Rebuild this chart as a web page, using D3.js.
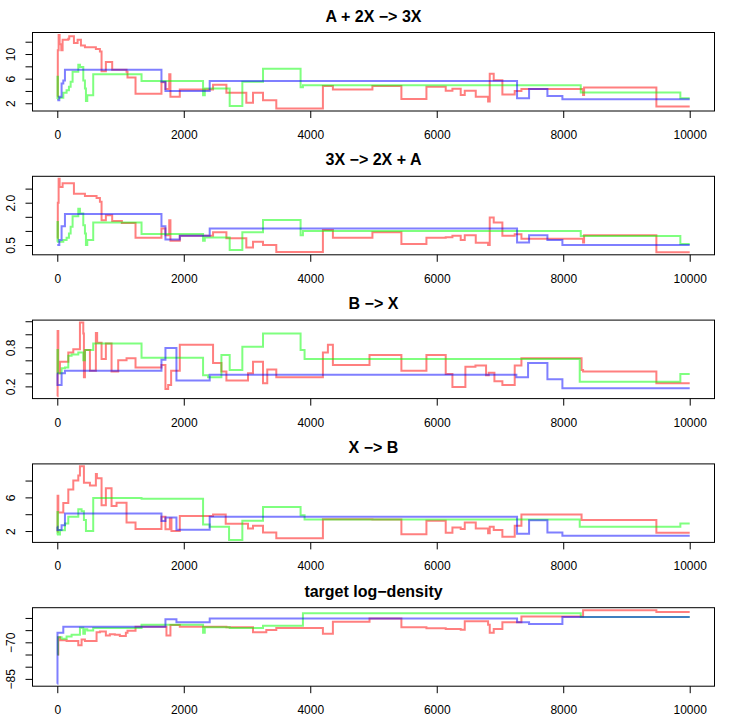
<!DOCTYPE html>
<html>
<head>
<meta charset="utf-8">
<script src="https://cdn.jsdelivr.net/npm/d3@7"></script>
<style>
  body { margin: 0; background: #fff; }
  svg { display: block; font-family: "Liberation Sans", Arial, sans-serif; }
</style>
</head>
<body>
<svg id="grafico" width="747" height="719"></svg>
<script>
// titulos dos paineis (o R desenha o "-" como sinal de menos)
const titulos = ["A + 2X \u2212> 3X", "3X \u2212> 2X + A", "B \u2212> X", "X \u2212> B", "target log\u2212density"];

// ticks do eixo x (iteracoes)
const x_ticks = [0, 2000, 4000, 6000, 8000, 10000];

// ticks do eixo y, e os rotulos que aparecem ("" = tick sem rotulo)
const y_ticks_1 = [2, 4, 6, 8, 10, 12];
const y_rot_1   = ["2", "", "6", "", "10", ""];
const y_ticks_2 = [0.5, 1.0, 1.5, 2.0, 2.5];
const y_rot_2   = ["0.5", "", "", "2.0", ""];
const y_ticks_3 = [0.2, 0.4, 0.6, 0.8, 1.0, 1.2];
const y_rot_3   = ["0.2", "", "", "0.8", "", ""];
const y_ticks_4 = [2, 4, 6, 8];
const y_rot_4   = ["2", "", "6", ""];
const y_ticks_5 = [-85, -80, -75, -70, -65, -60];
const y_rot_5   = ["\u221285", "", "", "\u221270", "", ""];

// cadeias: [iteracao, valor] nos pontos de mudanca
const red_1 = [[0,3.1],[8,10.6],[21,13.1],[37,11.6],[63,10.6],[84,12.3],[174,12.5],[189,12.9],[263,11.8],[321,12.3],[374,11.4],[437,11.1],[610,10.8],[674,10.4],[700,7.2],[768,8.7],[868,7.45],[1095,7.1],[1110,6.2],[1237,3.55],[1647,5.4],[1710,4.3],[1770,6.7],[1789,3.07],[1937,4.25],[2463,5.0],[2674,3.7],[2989,2.1],[3095,3.7],[3253,2.5],[3463,1.14],[4200,4.8],[4358,4.25],[4983,4.8],[5441,2.7],[5837,4.67],[6142,4.03],[6248,4.35],[6379,3.34],[6443,4.03],[6617,3.07],[6812,2.27],[6838,6.8],[6901,5.74],[7038,3.44],[7233,3.98],[7339,4.3],[8314,3.34],[8330,4.57],[9473,1.47],[10000,1.47]];
const green_1 = [[0,2.7],[3,6.3],[10,2.9],[95,3.7],[147,4.1],[184,4.7],[211,5.5],[242,7.1],[332,8.26],[358,7.9],[411,5.7],[437,4.4],[453,2.37],[474,3.3],[568,6.7],[1332,5.6],[2305,3.3],[2332,4.4],[2726,1.57],[2926,5.5],[3253,7.6],[3847,4.6],[3884,4.94],[8277,3.76],[9852,2.8],[10000,2.8]];
const blue_1 = [[0,2.5],[32,3.07],[68,5.2],[95,5.7],[121,7.45],[1647,5.5],[1710,4.0],[2410,5.6],[7270,2.8],[7460,4.3],[7750,3.2],[7987,2.64],[10000,2.64]];

const red_2 = [[0,0.74],[8,2.0],[21,2.85],[37,2.56],[84,2.69],[263,2.32],[437,2.24],[621,2.17],[674,2.03],[700,1.38],[768,1.56],[868,1.35],[1021,1.28],[1237,0.76],[1647,1.09],[1710,0.85],[1770,1.38],[1789,0.65],[1937,0.83],[2463,0.95],[2674,0.74],[2989,0.41],[3095,0.62],[3253,0.5],[3463,0.25],[4200,1.03],[4358,0.76],[4983,0.95],[5441,0.54],[5837,0.76],[6142,0.78],[6248,0.83],[6379,0.68],[6443,0.85],[6617,0.58],[6812,0.5],[6838,1.48],[6901,1.3],[7038,0.83],[7233,0.88],[7339,0.72],[8314,0.59],[8330,0.85],[9473,0.24],[10000,0.24]];
const green_2 = [[0,0.62],[3,1.32],[10,0.62],[95,0.68],[147,0.76],[184,0.91],[211,1.15],[242,1.52],[332,1.79],[358,1.62],[411,1.2],[437,0.91],[453,0.5],[474,0.68],[568,1.3],[1332,0.89],[2305,0.65],[2332,0.77],[2726,0.32],[2926,0.95],[3253,1.39],[3847,0.85],[3884,1.0],[8277,0.82],[9852,0.54],[10000,0.54]];
const blue_2 = [[0,0.5],[32,0.68],[68,1.17],[121,1.6],[1647,1.17],[1710,0.7],[1937,0.83],[2410,1.09],[7270,0.59],[7460,0.85],[7750,0.68],[7987,0.5],[10000,0.5]];

const red_3 = [[0,0.05],[5,1.05],[16,0.4],[42,0.58],[174,0.72],[253,0.77],[358,1.18],[411,1.01],[421,0.34],[437,0.76],[516,0.44],[610,1.02],[630,0.87],[700,0.62],[768,0.86],[858,0.43],[963,0.6],[1095,0.63],[1237,0.49],[1647,0.53],[1710,0.16],[1753,0.22],[1800,0.44],[1937,0.84],[2463,0.56],[2595,0.43],[2674,0.29],[3016,0.4],[3095,0.58],[3253,0.25],[3320,0.46],[3463,0.34],[4200,0.72],[4279,0.84],[4358,0.53],[4937,0.68],[5441,0.44],[5837,0.68],[6142,0.39],[6248,0.19],[6453,0.5],[6612,0.52],[6780,0.37],[6822,0.41],[6912,0.28],[7038,0.22],[7233,0.52],[7339,0.63],[8290,0.45],[8314,0.43],[9473,0.25],[10000,0.25]];
const green_3 = [[0,0.4],[3,0.76],[10,0.4],[68,0.48],[121,0.49],[174,0.67],[226,0.69],[332,0.72],[411,0.6],[437,0.76],[568,0.86],[1332,0.64],[2305,0.37],[2384,0.34],[2595,0.68],[2726,0.45],[2926,0.81],[3253,1.01],[3847,0.76],[3910,0.62],[8261,0.27],[9852,0.39],[10000,0.39]];
const blue_3 = [[0,0.4],[3,0.22],[68,0.4],[121,0.44],[1647,0.61],[1710,0.79],[1884,0.29],[2410,0.38],[7259,0.34],[7444,0.56],[7750,0.31],[7987,0.17],[10000,0.17]];

const red_4 = [[0,1.92],[5,6.2],[16,4.2],[95,5.33],[174,6.94],[253,8.0],[332,8.59],[358,9.69],[421,7.73],[516,7.41],[610,8.78],[626,8.27],[700,5.06],[768,7.1],[858,4.98],[937,5.37],[1095,3.0],[1237,2.24],[1647,3.69],[1710,2.2],[1780,3.5],[1805,2.0],[1937,3.8],[2463,3.96],[2663,2.86],[3016,2.31],[3095,2.63],[3253,1.84],[3463,1.14],[4200,3.41],[4983,3.37],[5441,1.61],[5837,3.22],[6142,1.8],[6248,2.43],[6379,2.24],[6443,3.02],[6617,2.31],[6812,1.73],[6838,2.51],[6901,2.12],[7038,1.33],[7233,2.63],[7339,3.96],[8290,3.3],[9473,1.8],[10000,1.8]];
const green_4 = [[0,1.6],[3,4.27],[10,1.6],[42,2.1],[121,2.9],[174,3.69],[332,4.6],[384,4.35],[421,3.3],[453,2.0],[568,5.92],[1332,5.84],[2305,2.78],[2410,2.51],[2716,0.94],[2926,3.22],[3253,4.86],[3847,3.88],[3910,3.37],[8261,2.51],[9852,2.9],[10000,2.9]];
const blue_4 = [[0,2.51],[3,2.12],[68,2.7],[121,4.08],[1647,3.18],[1710,3.6],[1884,2.16],[2410,3.69],[7270,1.69],[7460,3.29],[7750,1.84],[7987,1.45],[10000,1.45]];

const red_5 = [[0,-75],[16,-67.9],[42,-69.2],[147,-69.5],[332,-71.2],[384,-68.8],[437,-69.5],[621,-65.9],[674,-65.6],[768,-67.2],[831,-66.7],[910,-66.9],[989,-67.4],[1084,-66.1],[1110,-65.3],[1237,-63.6],[1726,-67.2],[1789,-62.9],[1937,-63.6],[2674,-63.8],[3095,-65.9],[3305,-64.9],[3463,-64.1],[4200,-66.5],[4358,-61.6],[4937,-60.2],[5441,-63.8],[5837,-64.2],[6142,-64.5],[6379,-64.8],[6443,-61.4],[6812,-62.8],[6838,-66.1],[6901,-64.5],[7038,-61.8],[7339,-59.4],[8314,-56.8],[9473,-57.6],[10000,-57.6]];
const green_5 = [[0,-75],[10,-67.9],[68,-68.5],[147,-67.6],[226,-66.9],[358,-64.0],[411,-66.5],[437,-64.6],[474,-65.2],[568,-64.1],[1332,-62.8],[2305,-66.1],[2332,-63.8],[2726,-64.1],[3253,-63.2],[3884,-58.1],[8277,-59.6],[10000,-59.6]];
const blue_5 = [[0,-87],[3,-66.1],[95,-63.6],[1710,-60.5],[1884,-61.8],[2410,-60.2],[7270,-61.8],[7460,-62.5],[7987,-59.6],[10000,-59.6]];

const paineis = [
  { series: [red_1, green_1, blue_1], ticks: y_ticks_1, rot: y_rot_1 },
  { series: [red_2, green_2, blue_2], ticks: y_ticks_2, rot: y_rot_2 },
  { series: [red_3, green_3, blue_3], ticks: y_ticks_3, rot: y_rot_3 },
  { series: [red_4, green_4, blue_4], ticks: y_ticks_4, rot: y_rot_4 },
  { series: [red_5, green_5, blue_5], ticks: y_ticks_5, rot: y_rot_5 }
];

const cores = ["rgba(255,0,0,0.5)", "rgba(0,255,0,0.5)", "rgba(0,0,255,0.5)"];

const W = 747, H = 719;
const PH = H / 5;
const LEFT = 32, RIGHT = 715;
const TOP = 32, BOTTOM = 111.5;

const $svg = d3.select("#grafico");

// escala x com a folga de 4% do R
const xdom = [0, 10000];
const xpad = 0.04 * (xdom[1] - xdom[0]);
const x = d3.scaleLinear()
  .domain([xdom[0] - xpad, xdom[1] + xpad])
  .range([LEFT, RIGHT]);

paineis.forEach(function(p, i) {
  const off = i * PH;
  const g = $svg.append("g").attr("transform", "translate(0," + off + ")");

  const todos = p.series.flat().map(d => d[1]);
  const ext = d3.extent(todos);
  const pad = 0.04 * (ext[1] - ext[0]);
  const y = d3.scaleLinear()
    .domain([ext[0] - pad, ext[1] + pad])
    .range([BOTTOM, TOP]);

  const linha = d3.line()
    .x(d => x(d[0]))
    .y(d => y(d[1]))
    .curve(d3.curveStepAfter);

  p.series.forEach(function(s, k) {
    g.append("path")
      .datum(s)
      .attr("d", linha)
      .attr("fill", "none")
      .attr("stroke", cores[k])
      .attr("stroke-width", 2);
  });

  // caixa
  g.append("rect")
    .attr("x", LEFT + 0.5)
    .attr("y", TOP + 0.5)
    .attr("width", RIGHT - LEFT - 1)
    .attr("height", BOTTOM - TOP - 1)
    .attr("fill", "none")
    .attr("stroke", "#000")
    .attr("stroke-width", 1);

  // eixo x
  const gx = g.append("g")
    .attr("transform", "translate(0," + (BOTTOM - 0.5) + ")")
    .call(d3.axisBottom(x).tickValues(x_ticks).tickSize(7).tickSizeOuter(0)
      .tickPadding(12.5).tickFormat(d => String(d)));
  gx.select(".domain").remove();
  gx.selectAll("text").attr("font-size", 12).attr("font-family", null).attr("fill", "#000");
  gx.selectAll("line").attr("stroke", "#000");

  // eixo y com rotulos paralelos ao eixo
  const gy = g.append("g")
    .attr("transform", "translate(" + (LEFT + 0.5) + ",0)")
    .call(d3.axisLeft(y).tickValues(p.ticks).tickSize(7).tickSizeOuter(0)
      .tickFormat((d, j) => p.rot[j]));
  gy.select(".domain").remove();
  gy.selectAll("line").attr("stroke", "#000");
  gy.selectAll("text")
    .attr("font-size", 12)
    .attr("font-family", null)
    .attr("fill", "#000")
    .attr("transform", "rotate(-90)")
    .attr("x", 0)
    .attr("y", -17.5)
    .attr("dy", null)
    .attr("text-anchor", "middle");

  // titulo
  g.append("text")
    .attr("x", (LEFT + RIGHT) / 2)
    .attr("y", 21.5)
    .attr("text-anchor", "middle")
    .attr("font-size", 16)
    .attr("font-weight", "bold")
    .text(titulos[i]);
});
</script>
</body>
</html>
